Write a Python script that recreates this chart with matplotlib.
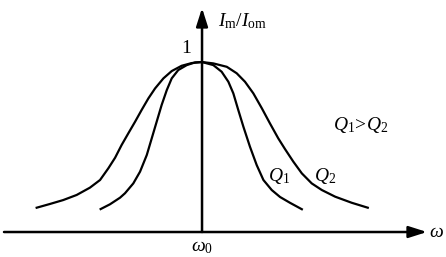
import matplotlib
matplotlib.use("Agg")
import matplotlib.pyplot as plt

plt.rcParams['mathtext.fontset'] = 'custom'
plt.rcParams['mathtext.rm'] = 'Liberation Serif'
plt.rcParams['mathtext.it'] = 'Liberation Serif:italic'
plt.rcParams['font.family'] = 'Liberation Serif'

# points (omega in units of omega0, I/I0)
w_q2 = [0.165, 0.232, 0.299, 0.367, 0.434, 0.485, 0.527, 0.561, 0.594, 0.628,
        0.662, 0.695, 0.729, 0.763, 0.805, 0.847, 0.897, 0.948, 1.0,
        1.057, 1.125, 1.175, 1.217, 1.259, 1.302, 1.343, 1.385, 1.419, 1.461,
        1.504, 1.554, 1.605, 1.672, 1.756, 1.837]
i_q2 = [0.143, 0.165, 0.188, 0.218, 0.261, 0.306, 0.375, 0.437, 0.512, 0.581,
        0.649, 0.718, 0.786, 0.845, 0.904, 0.947, 0.978, 0.994, 1.0,
        0.992, 0.972, 0.934, 0.884, 0.816, 0.728, 0.639, 0.551, 0.488, 0.414,
        0.345, 0.286, 0.247, 0.208, 0.172, 0.143]

w_q1 = [0.488, 0.535, 0.586, 0.611, 0.653, 0.687, 0.721, 0.746, 0.771, 0.796,
        0.822, 0.847, 0.880, 0.923, 0.965, 1.0,
        1.057, 1.099, 1.133, 1.158, 1.183, 1.209, 1.242, 1.276, 1.310, 1.352,
        1.394, 1.444, 1.504]
i_q1 = [0.135, 0.163, 0.202, 0.228, 0.286, 0.355, 0.453, 0.551, 0.649, 0.747,
        0.835, 0.904, 0.953, 0.982, 0.998, 1.0,
        0.982, 0.943, 0.884, 0.816, 0.718, 0.619, 0.502, 0.394, 0.306, 0.247,
        0.206, 0.172, 0.134]

fig = plt.figure(figsize=(4.46, 2.57), dpi=100)
ax = fig.add_axes([0, 0, 1, 1])
ax.set_xlim(-0.0202, 2.232)
ax.set_ylim(-0.147, 1.365)
ax.axis('off')

ax.plot(w_q2, i_q2, color='black', lw=1.6, solid_joinstyle='round')
ax.plot(w_q1, i_q1, color='black', lw=1.6, solid_joinstyle='round')

# axes with arrows
arrow = dict(arrowstyle='-|>,head_length=1.1,head_width=0.35', color='black', lw=1.8,
             shrinkA=0, shrinkB=0)
ax.annotate('', xy=(2.136, 0), xytext=(0, 0), arrowprops=arrow)
ax.annotate('', xy=(1.0, 1.318), xytext=(1.0, 0), arrowprops=arrow)

fs = 14
ax.text(1.08, 1.24, r'$I_{\rm m}/I_{\rm om}$', fontsize=fs, ha='left', va='center')
ax.text(0.92, 1.082, '1', fontsize=fs, ha='center', va='center')
ax.text(1.0, -0.09, r'$\omega_0$', fontsize=fs, ha='center', va='center')
ax.text(2.145, -0.005, r'$\omega$', fontsize=fs, ha='left', va='center')
ax.text(1.80, 0.63, r'$Q_1\!>\!Q_2$', fontsize=fs, ha='center', va='center')
ax.text(1.39, 0.33, r'$Q_1$', fontsize=fs, ha='center', va='center')
ax.text(1.62, 0.33, r'$Q_2$', fontsize=fs, ha='center', va='center')

fig.savefig('out.png', dpi=100)
